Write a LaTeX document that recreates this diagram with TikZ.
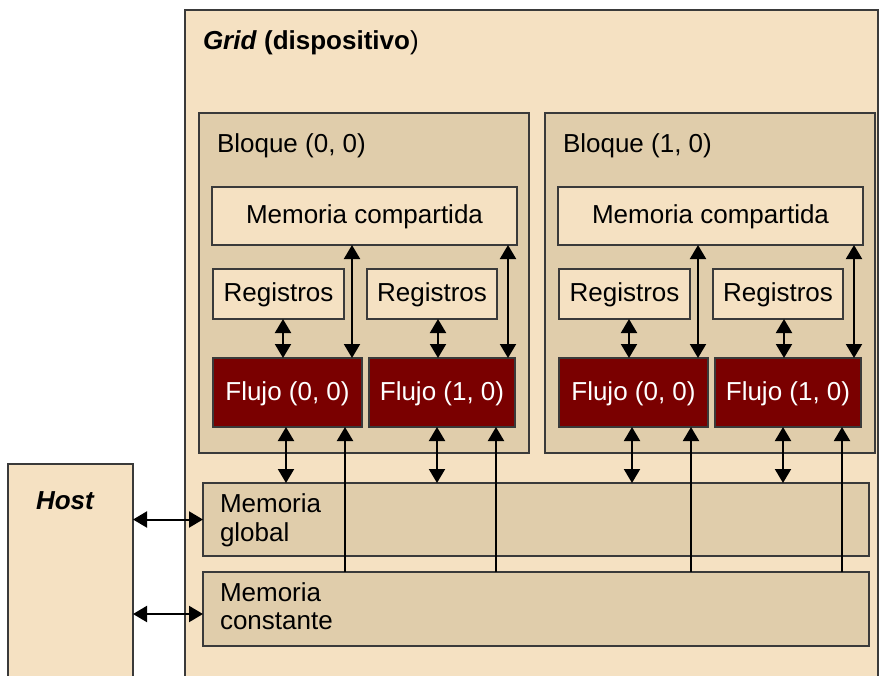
\documentclass[tikz,border=0pt]{standalone}
\usepackage{fontspec}
\setmainfont{Liberation Sans}
\usetikzlibrary{arrows.meta}
\definecolor{gridfill}{HTML}{F5E1C2}
\definecolor{blkfill}{HTML}{E0CDAB}
\definecolor{flujofill}{HTML}{7A0000}
\definecolor{edge}{HTML}{3A3A3A}
\tikzset{
  box/.style={draw=edge, line width=2pt, inner sep=0pt, outer sep=0pt, anchor=north west, font=\fontsize{26}{28.5}\selectfont, text height=19pt, text depth=4pt},
  lbl/.style={inner sep=0pt, outer sep=0pt, font=\fontsize{26}{28.5}\selectfont, anchor=base west, align=left},
  dbl/.style={line width=2pt, draw=black, {Triangle[width=16pt,length=14pt]}-{Triangle[width=16pt,length=14pt]}},
  sgl/.style={line width=2pt, draw=black, -{Triangle[width=16pt,length=14pt]}}
}
\begin{document}
\begin{tikzpicture}[x=1pt,y=-1pt]
\useasboundingbox (0,0) rectangle (880,675);
\clip (0,0) rectangle (880,675);
% grid
\node[box, fill=gridfill, minimum width=693pt, minimum height=700pt] (grid) at (185,10) {};
\node[lbl] (gridl) at (203,49) {\textbf{\textit{Grid} (dispositivo})};
% host
\node[box, fill=gridfill, minimum width=125pt, minimum height=250pt] (host) at (8,464) {};
\node[lbl] (hostl) at (36,509) {\textbf{\textit{Host}}};
% memories
\node[box, fill=blkfill, minimum width=666pt, minimum height=73pt] (glob) at (203,483) {};
\node[lbl] (globl) at (220,541) {Memoria\\global};
\node[box, fill=blkfill, minimum width=666pt, minimum height=74pt] (cons) at (203,572) {};
\node[lbl] (consl) at (220,629.5) {Memoria\\constante};
% blocks
\foreach \b/\dx in {0/0,1/346}{
  \node[box, fill=blkfill, minimum width=330pt, minimum height=340pt] (blk\b) at (199+\dx,113) {};
  \node[lbl] (blkl\b) at (217+\dx,152) {Bloque (\b, 0)};
  \node[box, fill=gridfill, minimum width=305pt, minimum height=58pt] (mc\b) at (212+\dx,187) {Memoria compartida};
  \node[box, fill=gridfill, minimum width=131pt, minimum height=50pt] (rega\b) at (213+\dx,269) {Registros};
  \node[box, fill=gridfill, minimum width=130pt, minimum height=50pt] (regb\b) at (367+\dx,269) {Registros};
  \node[box, fill=flujofill, text=white, minimum width=149pt, minimum height=69pt] (fla\b) at (213+\dx,358) {Flujo (0, 0)};
  \node[box, fill=flujofill, text=white, minimum width=146pt, minimum height=69pt] (flb\b) at (369+\dx,358) {Flujo (1, 0)};
  \draw[dbl] ([xshift=4.5pt]rega\b.south) -- ([xshift=-4.5pt]fla\b.north);
  \draw[dbl] ([xshift=6pt]regb\b.south) -- ([xshift=-4pt]flb\b.north);
  \draw[dbl] ([xshift=-12.5pt]mc\b.south) -- ([xshift=-10pt]fla\b.north east);
  \draw[dbl] ([xshift=-9pt]mc\b.south east) -- ([xshift=-7pt]flb\b.north east);
  \draw[dbl] ([xshift=-1.5pt]fla\b.south) -- ([xshift=-1.5pt]fla\b.south |- glob.north);
  \draw[dbl] ([xshift=-5pt]flb\b.south) -- ([xshift=-5pt]flb\b.south |- glob.north);
  \draw[sgl] ([xshift=-17pt]fla\b.south east |- cons.north) -- ([xshift=-17pt]fla\b.south east);
  \draw[sgl] ([xshift=-19pt]flb\b.south east |- cons.north) -- ([xshift=-19pt]flb\b.south east);
}
% host arrows
\draw[dbl] (glob.west -| host.east) -- (glob.west);
\draw[dbl] ([yshift=-5pt]cons.west -| host.east) -- ([yshift=-5pt]cons.west);
\end{tikzpicture}
\end{document}
